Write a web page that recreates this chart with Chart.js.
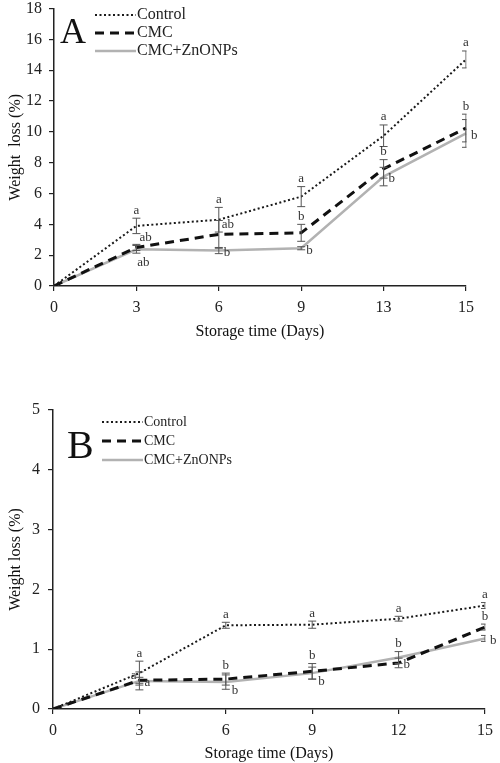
<!DOCTYPE html>
<html>
<head>
<meta charset="utf-8">
<title>Weight loss during storage</title>
<script src="https://cdn.jsdelivr.net/npm/chart.js@4.4.1/dist/chart.umd.min.js"></script>
<style>
  html, body { margin: 0; padding: 0; background: #fff; }
  body { width: 500px; height: 763px; position: relative; overflow: hidden; }
  .panel { position: absolute; left: 0; width: 500px; }
  #panelA { top: 0; height: 345px; }
  #panelB { top: 394px; height: 369px; }
</style>
</head>
<body>
<div class="panel" id="panelA"><canvas id="chartA"></canvas></div>
<div class="panel" id="panelB"><canvas id="chartB"></canvas></div>
<script>
// Panel A - storage days (unequal steps, shown as categories)
const daysA = ['0', '3', '6', '9', '13', '15'];
const controlA = [0, 3.9, 4.3, 5.8, 9.75, 14.7];
const controlErrA = [0, 0.5, 0.8, 0.65, 0.7, 0.55];
const cmcA = [0, 2.5, 3.35, 3.45, 7.6, 10.25];
const cmcErrA = [0, 0.2, 0.9, 0.55, 0.6, 0.9];
const znoA = [0, 2.38, 2.3, 2.45, 7.1, 9.9];
const znoErrA = [0, 0.25, 0.2, 0.1, 0.6, 0.9];
const controlLettersA = ['', 'a', 'a', 'a', 'a', 'a'];
const cmcLettersA = ['', 'ab', 'ab', 'b', 'b', 'b'];
const znoLettersA = ['', 'ab', 'b', 'b', 'b', 'b'];

// Panel B
const daysB = ['0', '3', '6', '9', '12', '15'];
const controlB = [0, 0.6, 1.4, 1.41, 1.51, 1.73];
const controlErrB = [0, 0.2, 0.05, 0.06, 0.04, 0.05];
const cmcB = [0, 0.48, 0.5, 0.63, 0.77, 1.37];
const cmcErrB = [0, 0.05, 0.1, 0.13, 0.08, 0.05];
const znoB = [0, 0.47, 0.45, 0.6, 0.86, 1.18];
const znoErrB = [0, 0.15, 0.12, 0.1, 0.1, 0.05];
const controlLettersB = ['', 'a', 'a', 'a', 'a', 'a'];
const cmcLettersB = ['', 'a', 'b', 'b', 'b', 'b'];
const znoLettersB = ['', 'a', 'b', 'b', 'b', 'b'];

const seriesNames = ['Control', 'CMC', 'CMC+ZnONPs'];
const yTicksA = { max: 18, step: 2 };
const yTicksB = { max: 5, step: 1 };

const SERIF = "'Liberation Serif', 'DejaVu Serif', serif";

// where each significance letter sits next to its point
function letterSpot(pos, px, py, pyTop, pyBot) {
    switch (pos) {
        case 'right': return [px + 5, py + 2, 'left'];
        case 'rightUp': return [px + 3, py - 10, 'left'];
        case 'rightDown': return [px + 6, py + 8, 'left'];
        case 'belowRight': return [px + 7, pyBot + 9, 'center'];
        case 'leftUp': return [px - 3, py - 5, 'right'];
        default: return [px, pyTop - 8, 'center'];
    }
}

const errorBarPlugin = {
    id: 'errorBars',
    afterDatasetsDraw(chart) {
        const { ctx, chartArea } = chart;
        const y = chart.scales.y;

        ctx.save();
        ctx.beginPath();
        ctx.rect(chartArea.left - 6, chartArea.top - 20, chartArea.width + 6.5, chartArea.height + 20);
        ctx.clip();
        ctx.strokeStyle = '#555';
        ctx.lineWidth = 1;
        chart.data.datasets.forEach((ds, di) => {
            const meta = chart.getDatasetMeta(di);
            ds.errors.forEach((e, i) => {
                if (!e) return;
                const px = meta.data[i].x;
                const top = y.getPixelForValue(ds.data[i] + e);
                const bot = y.getPixelForValue(ds.data[i] - e);
                ctx.beginPath();
                ctx.moveTo(px, top); ctx.lineTo(px, bot);
                ctx.moveTo(px - 4, top); ctx.lineTo(px + 4, top);
                ctx.moveTo(px - 4, bot); ctx.lineTo(px + 4, bot);
                ctx.stroke();
            });
        });
        ctx.restore();

        ctx.save();
        ctx.fillStyle = '#333';
        ctx.font = `13px ${SERIF}`;
        ctx.textBaseline = 'middle';
        chart.data.datasets.forEach((ds, di) => {
            const meta = chart.getDatasetMeta(di);
            ds.letters.forEach((txt, i) => {
                if (!txt) return;
                const px = meta.data[i].x;
                const py = y.getPixelForValue(ds.data[i]);
                const pyTop = y.getPixelForValue(ds.data[i] + ds.errors[i]);
                const pyBot = y.getPixelForValue(ds.data[i] - ds.errors[i]);
                const [lx, ly, align] = letterSpot(ds.letterPos[i], px, py, pyTop, pyBot);
                ctx.textAlign = align;
                ctx.fillText(txt, lx, ly);
            });
        });
        ctx.restore();
    }
};

const legendPlugin = {
    id: 'panelLegend',
    afterDraw(chart, args, opts) {
        const { ctx } = chart;
        ctx.save();
        ctx.fillStyle = '#111';
        ctx.textBaseline = 'middle';
        ctx.textAlign = 'left';
        ctx.font = `${opts.tagSize}px ${SERIF}`;
        ctx.fillText(opts.tag, opts.tagX, opts.tagY);

        ctx.font = `${opts.fontSize}px ${SERIF}`;
        ctx.fillStyle = '#222';
        chart.data.datasets.forEach((ds, i) => {
            const yy = opts.y + i * opts.rowGap;
            ctx.beginPath();
            ctx.strokeStyle = ds.borderColor;
            ctx.lineWidth = ds.borderWidth;
            ctx.setLineDash(ds.borderDash || []);
            ctx.moveTo(opts.x, yy);
            ctx.lineTo(opts.x + opts.lineLen, yy);
            ctx.stroke();
            ctx.setLineDash([]);
            ctx.fillText(ds.label, opts.x + opts.lineLen + 1, yy);
        });
        ctx.restore();
    }
};

function makeSeries(values, errors, letters, letterPos, idx) {
    const styles = [
        { borderColor: '#1a1a1a', borderWidth: 2, borderDash: [2, 2.5] },
        { borderColor: '#111111', borderWidth: 3, borderDash: [9, 6] },
        { borderColor: '#b2b2b2', borderWidth: 2.5, borderDash: [] }
    ];
    return Object.assign({
        label: seriesNames[idx],
        data: values,
        errors,
        letters,
        letterPos,
        pointRadius: 0,
        tension: 0,
        fill: false
    }, styles[idx]);
}

function makeChart(canvasId, labels, datasets, cfg) {
    return new Chart(document.getElementById(canvasId), {
        type: 'line',
        data: { labels, datasets },
        plugins: [errorBarPlugin, legendPlugin],
        options: {
            responsive: true,
            maintainAspectRatio: false,
            animation: false,
            layout: { padding: cfg.padding },
            plugins: {
                legend: { display: false },
                tooltip: { enabled: false },
                panelLegend: cfg.legend
            },
            scales: {
                x: {
                    type: 'category',
                    offset: false,
                    afterFit: s => { s.height = cfg.xHeight; },
                    border: { color: '#222', width: 1.5 },
                    grid: { drawOnChartArea: false, tickLength: 5, color: '#222', lineWidth: 1.2 },
                    ticks: { color: '#222', padding: cfg.xTickPad, maxRotation: 0, font: { family: SERIF, size: 16 } },
                    title: { display: true, text: 'Storage time (Days)', color: '#111', padding: { top: 0, bottom: cfg.xTitlePad }, font: { family: SERIF, size: 16 } }
                },
                y: {
                    min: 0,
                    max: cfg.yTicks.max,
                    afterFit: s => { s.width = cfg.yWidth; },
                    border: { color: '#222', width: 1.5 },
                    grid: { drawOnChartArea: false, tickLength: 5, color: '#222', lineWidth: 1.2 },
                    // small lineHeight keeps the top label from pushing the plot down
                    ticks: { stepSize: cfg.yTicks.step, color: '#222', padding: cfg.yTickPad, font: { family: SERIF, size: 16, lineHeight: 0.2 } },
                    title: { display: true, text: cfg.yTitle, color: '#111', padding: { top: 6, bottom: 0 }, font: { family: SERIF, size: 16 } }
                }
            }
        }
    });
}

// datasets listed grey last so it is painted on top, as in the figure
makeChart('chartA', daysA, [
    makeSeries(controlA, controlErrA, controlLettersA, ['', 'above', 'above', 'above', 'above', 'above'], 0),
    makeSeries(cmcA, cmcErrA, cmcLettersA, ['', 'rightUp', 'rightUp', 'above', 'above', 'above'], 1),
    makeSeries(znoA, znoErrA, znoLettersA, ['', 'belowRight', 'right', 'right', 'right', 'right'], 2)
], {
    padding: { left: 0, right: 34, top: 8, bottom: 0 },
    xHeight: 59, xTickPad: 7, xTitlePad: 4, yWidth: 54, yTickPad: 7,
    yTicks: yTicksA,
    yTitle: 'Weight  loss (%)',
    legend: { tag: 'A', tagSize: 36, tagX: 60, tagY: 34, fontSize: 16, x: 95, y: 15, rowGap: 18, lineLen: 41 }
});

makeChart('chartB', daysB, [
    makeSeries(controlB, controlErrB, controlLettersB, ['', 'above', 'above', 'above', 'above', 'above'], 0),
    makeSeries(cmcB, cmcErrB, cmcLettersB, ['', 'leftUp', 'above', 'above', 'right', 'above'], 1),
    makeSeries(znoB, znoErrB, znoLettersB, ['', 'right', 'rightDown', 'rightDown', 'above', 'right'], 2)
], {
    padding: { left: 0, right: 12, top: 16, bottom: 0 },
    xHeight: 54, xTickPad: 7, xTitlePad: 0, yWidth: 53, yTickPad: 8,
    yTicks: yTicksB,
    yTitle: 'Weight loss (%)',
    legend: { tag: 'B', tagSize: 40, tagX: 67, tagY: 53, fontSize: 14, x: 102, y: 28, rowGap: 19, lineLen: 41 }
});
</script>
</body>
</html>
